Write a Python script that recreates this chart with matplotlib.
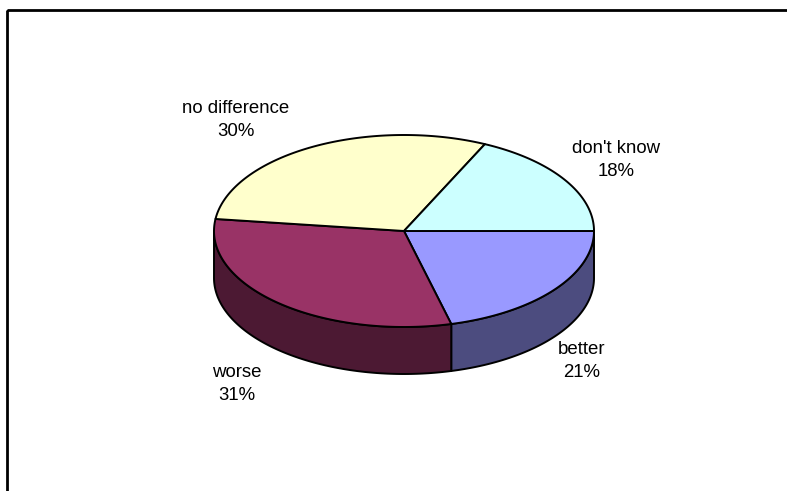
import numpy as np
import matplotlib
matplotlib.use("Agg")
import matplotlib.pyplot as plt
from matplotlib.patches import Polygon, Rectangle

labels = ["better", "worse", "no difference", "don't know"]
shares = [21, 31, 30, 18]
top_colors = ["#9999FF", "#993366", "#FFFFCC", "#CCFFFF"]
side_colors = ["#4C4C7F", "#4C1933", "#7F7F66", "#667F7F"]

# label anchors (pixel coords, y down)
label_xy = [(582, 361), (237, 384), (236, 120), (616, 160)]

W, H = 787, 491
cx, cy = 404, 231
rx, ry = 190, 96
depth = 47
lw = 1.4

fig = plt.figure(figsize=(W / 100, H / 100), dpi=100)
ax = fig.add_axes([0, 0, 1, 1])
ax.set_xlim(0, W)
ax.set_ylim(H, 0)
ax.axis("off")

# chart frame
ax.add_patch(Rectangle((6.5, 10), W + 20, H + 20, fill=False,
                       edgecolor="black", linewidth=2.0))


def rim(a, dy=0.0):
    a = np.radians(a)
    return np.column_stack([cx + rx * np.cos(a), cy - ry * np.sin(a) + dy])


# slices run clockwise from 3 o'clock
total = float(sum(shares))
bounds = [0.0]
for s in shares:
    bounds.append(bounds[-1] - 360.0 * s / total)

# side walls for the front half of the disc
for i in range(len(shares)):
    a0, a1 = bounds[i], bounds[i + 1]
    for off in (0.0, -360.0):
        hi = min(a0, 0.0 + off)
        lo = max(a1, -180.0 + off)
        if hi <= lo:
            continue
        t = np.linspace(hi, lo, 120)
        top = rim(t)
        bot = rim(t[::-1], depth)
        ax.add_patch(Polygon(np.vstack([top, bot]), closed=True,
                             facecolor=side_colors[i], edgecolor="black",
                             linewidth=lw, joinstyle="round"))

# top faces
for i in range(len(shares)):
    t = np.linspace(bounds[i], bounds[i + 1], 200)
    pts = np.vstack([[cx, cy], rim(t)])
    ax.add_patch(Polygon(pts, closed=True, facecolor=top_colors[i],
                         edgecolor="black", linewidth=lw, joinstyle="round"))

for name, s, (x, y) in zip(labels, shares, label_xy):
    ax.text(x, y, f"{name}\n{s}%", ha="center", va="center",
            multialignment="center", fontsize=13.4, linespacing=1.45,
            family="Liberation Sans", color="black")

fig.savefig("out.png", dpi=100)
